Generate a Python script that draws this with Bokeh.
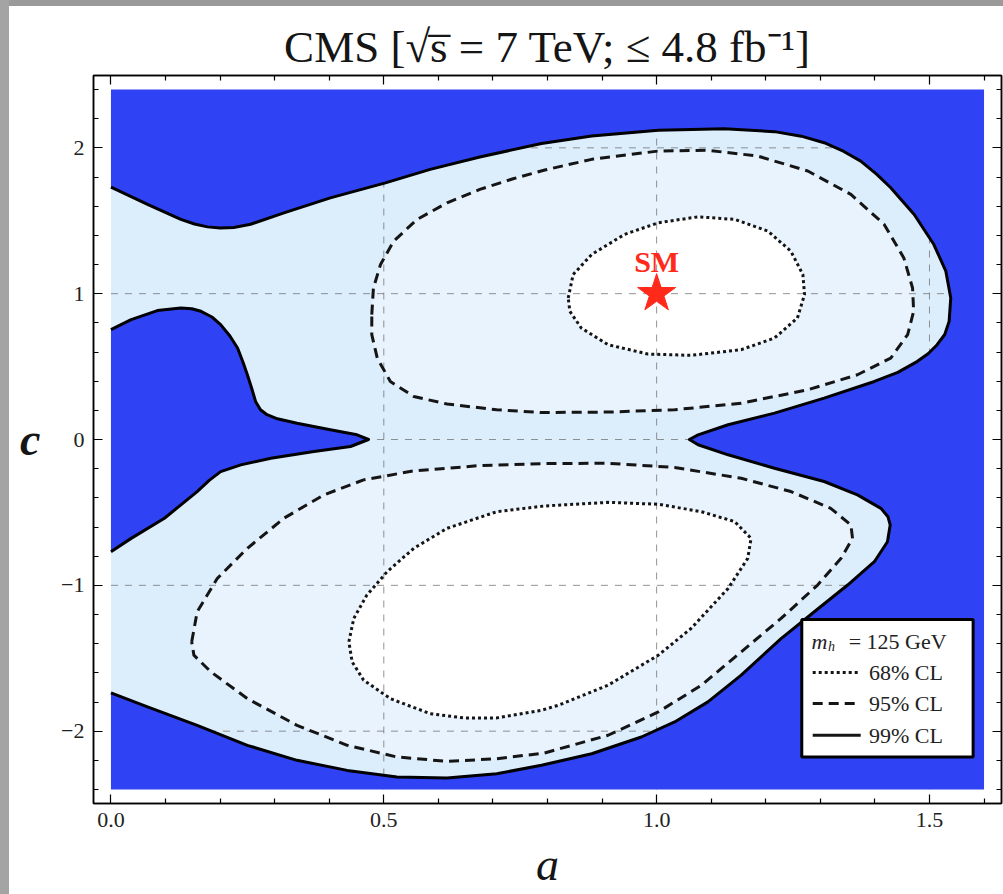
from bokeh.plotting import figure
from bokeh.models import Range1d, FixedTicker, LinearAxis, CustomJSTickFormatter, Label, Spacer
from bokeh.layouts import row, column
from bokeh.embed import file_html
from bokeh.resources import INLINE

# ---------------- data ----------------
A_LIMITS = [0.0, 1.6]      # scanned range of a
C_LIMITS = [-2.4, 2.4]     # scanned range of c

X_MAJOR = [0.0, 0.5, 1.0, 1.5]
X_MINOR = [0.1, 0.2, 0.3, 0.4, 0.6, 0.7, 0.8, 0.9, 1.1, 1.2, 1.3, 1.4, 1.6]
Y_MAJOR = [-2, -1, 0, 1, 2]
Y_MINOR = [-2.4, -2.2, -1.8, -1.6, -1.4, -1.2, -0.8, -0.6, -0.4, -0.2,
           0.2, 0.4, 0.6, 0.8, 1.2, 1.4, 1.6, 1.8, 2.2, 2.4]

# 99% CL boundary, outer branch (from the left edge, round both lobes, back to the left edge)
cl99_outer_a = [0.000, 0.067, 0.128, 0.153, 0.177, 0.200, 0.225, 0.256, 0.317, 0.402,
                0.503, 0.585, 0.676, 0.789, 0.881, 1.003, 1.124, 1.216, 1.265, 1.307,
                1.343, 1.374, 1.403, 1.429, 1.472, 1.508, 1.530, 1.539, 1.536, 1.528,
                1.514, 1.498, 1.478, 1.442, 1.399, 1.307, 1.216, 1.131, 1.076, 1.060,
                1.076, 1.131, 1.216, 1.307, 1.368, 1.411, 1.424, 1.428, 1.423, 1.399,
                1.350, 1.289, 1.228, 1.155, 1.094, 1.033, 0.972, 0.881, 0.789, 0.707,
                0.616, 0.524, 0.433, 0.341, 0.250, 0.158, 0.067, 0.000]
cl99_outer_c = [1.731, 1.612, 1.509, 1.478, 1.458, 1.450, 1.454, 1.476, 1.554, 1.657,
                1.760, 1.852, 1.937, 2.030, 2.081, 2.120, 2.131, 2.111, 2.080, 2.035,
                1.975, 1.909, 1.820, 1.726, 1.543, 1.337, 1.154, 0.970, 0.810, 0.720,
                0.650, 0.590, 0.536, 0.460, 0.398, 0.284, 0.181, 0.101, 0.032, 0.000,
                -0.036, -0.105, -0.197, -0.288, -0.380, -0.472, -0.530, -0.586, -0.701, -0.838,
                -0.998, -1.181, -1.365, -1.616, -1.799, -1.937, -2.040, -2.155, -2.234, -2.292,
                -2.321, -2.315, -2.269, -2.200, -2.097, -1.960, -1.834, -1.738]

# 99% CL boundary, inner branch (the excluded tongue on the left)
cl99_inner_a = [0.000, 0.037, 0.085, 0.128, 0.148, 0.165, 0.185, 0.201, 0.218, 0.232,
                0.242, 0.250, 0.258, 0.265, 0.274, 0.286, 0.305, 0.341, 0.402, 0.451,
                0.472, 0.439, 0.372, 0.293, 0.238, 0.201, 0.180, 0.158, 0.098, 0.037,
                0.000]
cl99_inner_c = [0.753, 0.822, 0.884, 0.902, 0.897, 0.879, 0.840, 0.788, 0.710, 0.627,
                0.530, 0.444, 0.350, 0.261, 0.204, 0.170, 0.142, 0.112, 0.067, 0.032,
                0.000, -0.048, -0.082, -0.128, -0.174, -0.220, -0.280, -0.357, -0.540, -0.678,
                -0.769]

# 95% CL, upper island
cl95_up_a = [0.478, 0.481, 0.494, 0.518, 0.561, 0.616, 0.676, 0.737, 0.795, 0.881,
             1.003, 1.094, 1.185, 1.277, 1.356, 1.417, 1.453, 1.469, 1.471, 1.460,
             1.429, 1.368, 1.277, 1.155, 1.033, 0.911, 0.789, 0.707, 0.616, 0.555,
             0.512, 0.488, 0.478]
cl95_up_c = [0.856, 1.039, 1.200, 1.360, 1.509, 1.623, 1.715, 1.788, 1.848, 1.921,
             1.978, 1.983, 1.944, 1.841, 1.681, 1.475, 1.245, 1.039, 0.879, 0.719,
             0.558, 0.444, 0.341, 0.249, 0.204, 0.188, 0.185, 0.204, 0.243, 0.295,
             0.398, 0.558, 0.719]

# 68% CL, upper island
cl68_up_a = [0.838, 0.847, 0.881, 0.941, 1.003, 1.076, 1.143, 1.204, 1.246, 1.268,
             1.271, 1.258, 1.216, 1.155, 1.063, 0.984, 0.911, 0.862, 0.841]
cl68_up_c = [0.970, 1.131, 1.269, 1.406, 1.486, 1.527, 1.509, 1.429, 1.291, 1.131,
             0.994, 0.833, 0.696, 0.616, 0.577, 0.586, 0.650, 0.764, 0.879]

# 95% CL, lower island
cl95_lo_a = [0.148, 0.158, 0.195, 0.250, 0.317, 0.390, 0.463, 0.555, 0.676, 0.798,
             0.911, 1.033, 1.155, 1.246, 1.319, 1.356, 1.359, 1.338, 1.295, 1.228,
             1.155, 1.082, 1.003, 0.911, 0.794, 0.707, 0.616, 0.524, 0.433, 0.341,
             0.250, 0.183, 0.152]
cl95_lo_c = [-1.387, -1.181, -0.952, -0.746, -0.540, -0.380, -0.277, -0.215, -0.179, -0.165,
             -0.163, -0.192, -0.266, -0.357, -0.472, -0.586, -0.678, -0.815, -0.998, -1.227,
             -1.456, -1.685, -1.868, -2.028, -2.150, -2.189, -2.207, -2.177, -2.097, -1.960,
             -1.777, -1.593, -1.479]

# 68% CL, lower island
cl68_lo_a = [0.436, 0.445, 0.469, 0.506, 0.555, 0.616, 0.707, 0.794, 0.911, 1.003,
             1.082, 1.143, 1.173, 1.167, 1.131, 1.063, 1.003, 0.911, 0.820, 0.789,
             0.707, 0.646, 0.585, 0.512, 0.463, 0.442]
cl68_lo_c = [-1.387, -1.227, -1.067, -0.907, -0.746, -0.609, -0.495, -0.456, -0.431, -0.444,
             -0.495, -0.563, -0.678, -0.815, -1.021, -1.296, -1.479, -1.685, -1.822, -1.857,
             -1.909, -1.909, -1.880, -1.777, -1.650, -1.525]

SM_POINT_A = [1.0]
SM_POINT_C = [1.0]

TITLE = "CMS [\u221as\u0305 = 7 TeV; \u2264 4.8 fb\u207b\u00b9]"
X_LABEL = "a"
Y_LABEL = "c"
LEGEND_LABELS = ["68% CL", "95% CL", "99% CL"]

# ---------------- styles ----------------
BLUE = "#3043f4"
LIGHT99 = "#dcedfc"
LIGHT95 = "#e9f3fd"
SERIF = "Liberation Serif"
INK = "#151515"

def closed(v):
    return list(v) + [v[0]]

pad_a = 0.02 * (A_LIMITS[1] - A_LIMITS[0])
pad_c = 0.02 * (C_LIMITS[1] - C_LIMITS[0])

p = figure(width=994, height=888,
           x_range=Range1d(A_LIMITS[0] - pad_a, A_LIMITS[1] + pad_a),
           y_range=Range1d(C_LIMITS[0] - pad_c, C_LIMITS[1] + pad_c),
           x_axis_location=None, y_axis_location=None,
           output_backend="svg", toolbar_location=None,
           min_border_left=84, min_border_right=2, min_border_top=69, min_border_bottom=91,
           background_fill_color="white", border_fill_color="white")

p.xgrid.visible = False
p.ygrid.visible = False
p.outline_line_color = "black"
p.outline_line_width = 1.5

# regions
light_a = cl99_outer_a + cl99_inner_a[::-1]
light_c = cl99_outer_c + cl99_inner_c[::-1]
p.patch(light_a, light_c, fill_color=LIGHT99, line_color=None)
p.patches([cl95_up_a, cl95_lo_a], [cl95_up_c, cl95_lo_c], fill_color=LIGHT95, line_color=None)
p.patches([cl68_up_a, cl68_lo_a], [cl68_up_c, cl68_lo_c], fill_color="white", line_color=None)

# grid lines (at the inner major ticks)
gxt = [t for t in X_MAJOR if A_LIMITS[0] < t < A_LIMITS[1]]
gyt = [t for t in Y_MAJOR if C_LIMITS[0] < t < C_LIMITS[1]]
gx = [[t, t] for t in gxt] + [[A_LIMITS[0], A_LIMITS[1]] for t in gyt]
gy = [[C_LIMITS[0], C_LIMITS[1]] for t in gxt] + [[t, t] for t in gyt]
p.multi_line(gx, gy, line_color="#6f6f6f", line_alpha=0.75, line_width=1, line_dash="7 7")

# excluded (blue) regions
outer_blue_a = cl99_outer_a + [A_LIMITS[0], A_LIMITS[1], A_LIMITS[1], A_LIMITS[0]]
outer_blue_c = cl99_outer_c + [C_LIMITS[0], C_LIMITS[0], C_LIMITS[1], C_LIMITS[1]]
p.patches([outer_blue_a, cl99_inner_a], [outer_blue_c, cl99_inner_c],
          fill_color=BLUE, line_color=None)

# contour lines
p.multi_line([cl99_outer_a, cl99_inner_a], [cl99_outer_c, cl99_inner_c],
             line_color="black", line_width=3, line_join="round")
p.multi_line([closed(cl95_up_a), closed(cl95_lo_a)], [closed(cl95_up_c), closed(cl95_lo_c)],
             line_color=INK, line_width=3, line_dash="10 6", line_join="round")
p.multi_line([closed(cl68_up_a), closed(cl68_lo_a)], [closed(cl68_up_c), closed(cl68_lo_c)],
             line_color=INK, line_width=3, line_dash="3 3", line_join="round")

# SM point
p.scatter(SM_POINT_A, SM_POINT_C, marker="star", size=40, fill_color="#ff2a1a", line_color="#ff2a1a")
p.add_layout(Label(x=SM_POINT_A[0], y=SM_POINT_C[0] + 0.22, text="SM", text_align="center",
                   text_baseline="middle", text_font=SERIF, text_font_size="30px",
                   text_font_style="bold", text_color="#ff2a1a"))

# axes (own axes on all four sides, ticks pointing inwards)
xt = FixedTicker(ticks=X_MAJOR, minor_ticks=X_MINOR)
yt = FixedTicker(ticks=Y_MAJOR, minor_ticks=Y_MINOR)
bottom = LinearAxis(ticker=xt, formatter=CustomJSTickFormatter(code="return tick.toFixed(1);"))
left = LinearAxis(ticker=yt, formatter=CustomJSTickFormatter(
    code="return tick < 0 ? '\u2212' + Math.abs(tick).toFixed(0) : tick.toFixed(0);"))
top = LinearAxis(ticker=xt, formatter=CustomJSTickFormatter(code="return '';"))
right = LinearAxis(ticker=yt, formatter=CustomJSTickFormatter(code="return '';"))

for ax in [bottom, left, top, right]:
    ax.axis_line_color = "black"
    ax.axis_line_width = 1.5
    ax.major_tick_in = 9
    ax.major_tick_out = 0
    ax.minor_tick_in = 5
    ax.minor_tick_out = 0
    ax.major_tick_line_color = "black"
    ax.minor_tick_line_color = "black"
    ax.major_tick_line_width = 1.2
    ax.minor_tick_line_width = 1.2
    ax.major_label_text_font = SERIF
    ax.major_label_text_font_size = "22px"
    ax.major_label_text_color = "#222222"
for ax in [top, right]:
    ax.major_label_text_font_size = "0px"
    ax.major_label_standoff = 0
bottom.major_label_standoff = 9
left.major_label_standoff = 9

bottom.axis_label = X_LABEL
bottom.axis_label_text_font = SERIF
bottom.axis_label_text_font_size = "46px"
bottom.axis_label_text_font_style = "italic"
bottom.axis_label_text_color = INK
bottom.axis_label_standoff = 9

# horizontal "c" label: an extra, bare axis on the left with one labelled tick at c = 0
c_axis = LinearAxis(ticker=FixedTicker(ticks=[0]),
                    formatter=CustomJSTickFormatter(code="return '%s';" % Y_LABEL),
                    axis_line_color=None, major_tick_line_color=None, minor_tick_line_color=None,
                    major_tick_in=0, major_tick_out=0, minor_tick_in=0, minor_tick_out=0,
                    major_label_standoff=18, major_label_text_font=SERIF,
                    major_label_text_font_size="46px", major_label_text_font_style="bold italic",
                    major_label_text_color=INK)

p.add_layout(bottom, "below")
p.add_layout(left, "left")
p.add_layout(c_axis, "left")
p.add_layout(top, "above")
p.add_layout(right, "right")

# title
p.title.text = TITLE
p.title.text_font = SERIF
p.title.text_font_size = "45px"
p.title.text_font_style = "normal"
p.title.align = "center"
p.title.standoff = 7
p.title.text_color = INK

# legend (drawn by hand)
LEG_L, LEG_R, LEG_T, LEG_B = 1.266, 1.580, -1.234, -2.177
p.quad(left=[LEG_L], right=[LEG_R], top=[LEG_T], bottom=[LEG_B],
       fill_color="white", line_color="black", line_width=3)
rows_c = [-1.598, -1.811, -2.028]
dashes = ["3 3", "10 6", "solid"]
for rc, dsh, lab in zip(rows_c, dashes, LEGEND_LABELS):
    p.line([1.286, 1.374], [rc, rc], line_color=INK, line_width=3, line_dash=dsh)
    p.add_layout(Label(x=1.389, y=rc, text=lab, text_baseline="middle", text_font=SERIF,
                       text_font_size="22px", text_color="#222222"))
p.add_layout(Label(x=1.284, y=-1.387, text="m", text_baseline="middle", text_font=SERIF,
                   text_font_size="22px", text_font_style="italic", text_color="#222222"))
p.add_layout(Label(x=1.314, y=-1.42, text="h", text_baseline="middle", text_font=SERIF,
                   text_font_size="14px", text_font_style="italic", text_color="#222222"))
p.add_layout(Label(x=1.352, y=-1.387, text="= 125 GeV", text_baseline="middle", text_font=SERIF,
                   text_font_size="22px", text_color="#222222"))

left_strip = Spacer(width=9, height=894, styles={"background-color": "#a4a4a4"})
top_strip = Spacer(width=994, height=6, styles={"background-color": "#9a9a9a"})
layout = row(left_strip, column(top_strip, p))

open("out.html", "w").write(file_html(layout, INLINE))
